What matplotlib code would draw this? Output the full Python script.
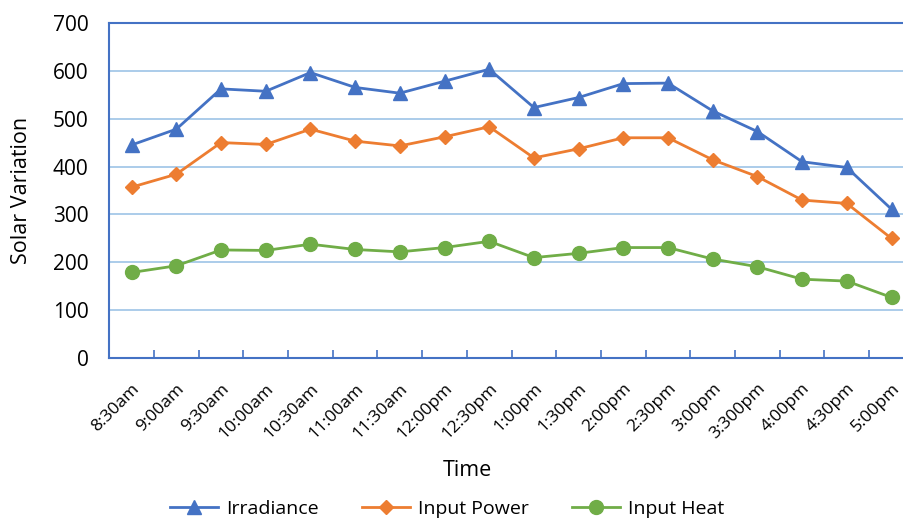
import matplotlib

matplotlib.use("Agg")
import matplotlib.pyplot as plt  # noqa: E402
from matplotlib.ticker import FixedLocator  # noqa: E402

times = ["8:30am", "9:00am", "9:30am", "10:00am", "10:30am", "11:00am", "11:30am",
         "12:00pm", "12:30pm", "1:00pm", "1:30pm", "2:00pm", "2:30pm", "3:00pm",
         "3:300pm", "4:00pm", "4:30pm", "5:00pm"]
irradiance = [445, 478, 562, 557, 596, 565, 553, 578, 603, 523, 544, 573, 574, 516, 473, 410, 398, 311]
input_power = [357, 384, 450, 446, 478, 453, 443, 462, 483, 418, 437, 460, 460, 414, 379, 330, 323, 250]
input_heat = [179, 193, 226, 225, 238, 227, 222, 231, 244, 210, 219, 231, 231, 207, 191, 165, 161, 127]

plt.rcParams["font.family"] = ["Open Sans", "DejaVu Sans"]

fig = plt.figure(figsize=(9.04, 5.21), dpi=100)
ax = fig.add_axes([0.1209, 0.3123, 0.890, 0.6441])

x = list(range(len(times)))
ax.plot(x, irradiance, color="#4472C4", lw=2, marker="^", ms=10, label="Irradiance")
ax.plot(x, input_power, color="#ED7D31", lw=2, marker="D", ms=7, label="Input Power")
ax.plot(x, input_heat, color="#70AD47", lw=2, marker="o", ms=10, label="Input Heat")

ax.set_xlim(-0.5, len(times) - 0.5)
ax.set_ylim(0, 700)
ax.set_yticks(range(0, 701, 100))
ax.yaxis.grid(True, color="#9DC3E6", lw=1.2)
ax.set_axisbelow(True)
ax.tick_params(axis="y", length=0, labelsize=15, pad=15)

ax.set_xticks(x)
ax.set_xticklabels(times, rotation=45, ha="right", rotation_mode="anchor", fontsize=12.5)
ax.tick_params(axis="x", which="major", length=0, pad=16)
ax.xaxis.set_minor_locator(FixedLocator([i + 0.5 for i in x]))
ax.tick_params(axis="x", which="minor", direction="in", length=6, color="#4472C4", width=1.2)

for side in ("left", "bottom", "top"):
    ax.spines[side].set_color("#4472C4")
    ax.spines[side].set_linewidth(1.5)
ax.spines["right"].set_visible(False)

fig.text(22 / 904, 1 - 190 / 521, "Solar Variation", fontsize=15.5, rotation=90,
         ha="center", va="center")
fig.text(467 / 904, 1 - 470 / 521, "Time", fontsize=15.5, ha="center", va="center")

fig.legend(loc="center", bbox_to_anchor=(447 / 904, 1 - 509 / 521), ncol=3, frameon=False,
           fontsize=14, handlelength=2.5, handletextpad=0.4, columnspacing=2.2)

fig.savefig("out.png", dpi=100)
